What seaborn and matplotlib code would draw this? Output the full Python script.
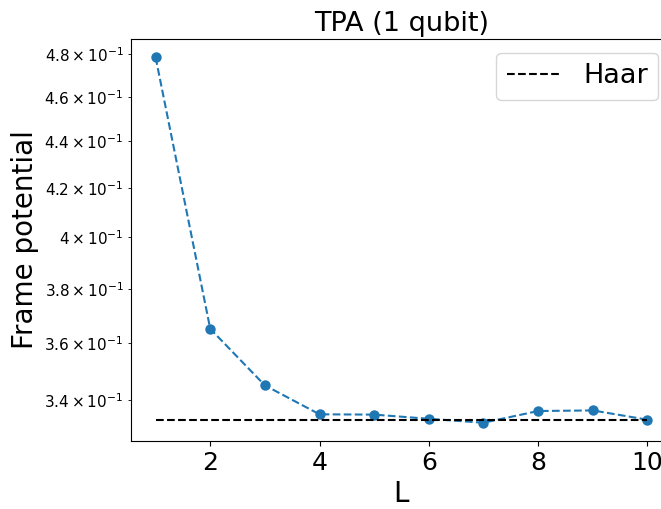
import numpy as np
import pandas as pd
import seaborn as sns
import matplotlib.pyplot as plt

L = [1, 2, 3, 4, 5, 6, 7, 8, 9, 10]
frame_potential = [0.4785, 0.3651, 0.3451, 0.3353, 0.3352, 0.3338, 0.3325, 0.3364, 0.3366, 0.3335]
haar = 1 / 3

df = pd.DataFrame({"L": L, "Frame potential": frame_potential})
df_haar = pd.DataFrame({"L": [L[0], L[-1]], "Haar": [haar, haar]})

fig = plt.figure(figsize=(6.61, 5.09), dpi=100)
ax = fig.add_axes([131 / 661, 1 - 441 / 509, (672 - 131) / 661, (441 - 39) / 509])

sns.lineplot(data=df, x="L", y="Frame potential", ax=ax, marker="o", markersize=7.5,
             markeredgewidth=0, color="#1f77b4", linestyle="--")
ax.plot(df_haar["L"], df_haar["Haar"], "k--", label="Haar")

ax.set_yscale("log")
ax.set_title("TPA (1 qubit)", fontsize=19.5)
ax.set_xlabel("L", fontsize=20)
ax.set_ylabel("Frame potential", fontsize=20)
ax.tick_params(axis="x", labelsize=18)
ax.tick_params(axis="y", which="both", labelsize=11)
ax.legend(fontsize=19.5, loc="upper right")

fig.savefig("out.png", dpi=100)
